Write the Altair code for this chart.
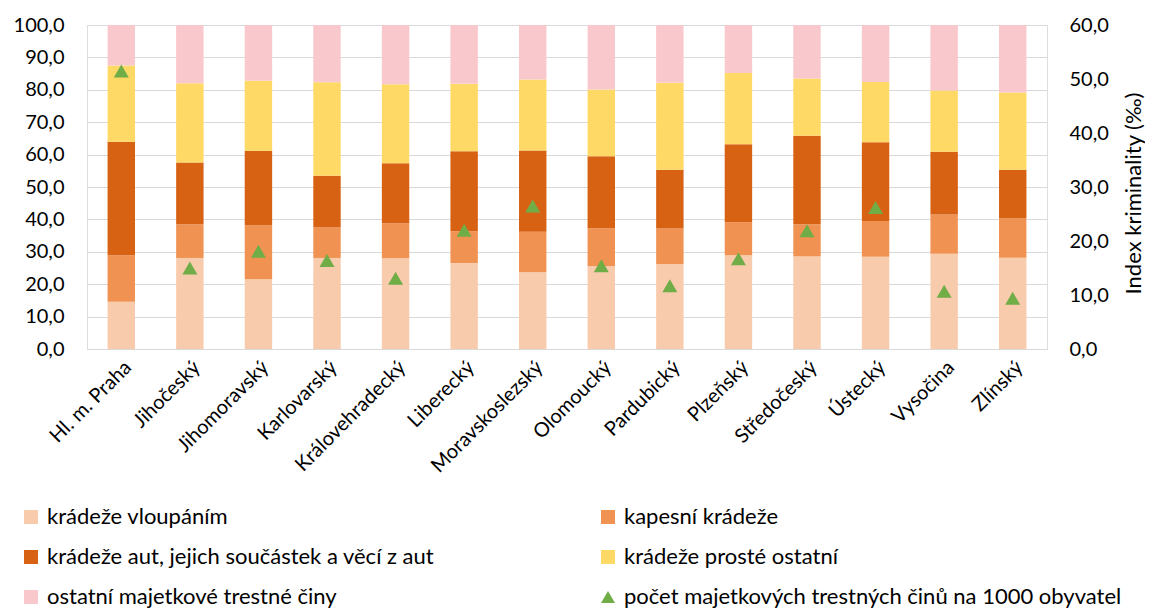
import altair as alt
import pandas as pd

kraje = ["Hl. m. Praha", "Jihočeský", "Jihomoravský", "Karlovarský", "Královehradecký",
         "Liberecký", "Moravskoslezský", "Olomoucký", "Pardubický", "Plzeňský",
         "Středočeský", "Ústecký", "Vysočina", "Zlínský"]

series_names = ["krádeže vloupáním", "kapesní krádeže",
                "krádeže aut, jejich součástek a věcí z aut", "krádeže prosté ostatní",
                "ostatní majetkové trestné činy"]
index_name = "počet majetkových trestných činů na 1000 obyvatel"

vloupani = [14.6, 28.1, 21.5, 28.1, 28.0, 26.5, 23.7, 25.6, 26.2, 28.9, 28.6, 28.5, 29.4, 28.2]
kapesni = [14.3, 10.4, 16.7, 9.4, 10.8, 9.9, 12.5, 11.7, 11.0, 10.2, 9.9, 11.0, 12.1, 12.1]
auta = [35.1, 19.1, 23.0, 16.0, 18.5, 24.6, 25.1, 22.2, 18.1, 24.1, 27.3, 24.3, 19.4, 15.0]
proste = [23.5, 24.4, 21.6, 28.8, 24.4, 20.9, 21.9, 20.6, 26.9, 22.0, 17.7, 18.6, 18.9, 23.9]
ostatni = [12.5, 18.0, 17.2, 17.7, 18.3, 18.1, 16.8, 19.9, 17.8, 14.8, 16.5, 17.6, 20.2, 20.8]
index_krim = [51.5, 15.0, 18.1, 16.4, 13.1, 22.0, 26.5, 15.4, 11.7, 16.7, 21.9, 26.2, 10.7, 9.4]

colors = ["#F8CBAD", "#F09352", "#D86214", "#FFD966", "#F9C8CC", "#70AD47"]

rows = []
for si, (name, vals) in enumerate(zip(series_names, [vloupani, kapesni, auta, proste, ostatni])):
    for k, v in zip(kraje, vals):
        rows.append({"kraj": k, "series": name, "value": v, "order": si})
bars_df = pd.DataFrame(rows)
pts_df = pd.DataFrame({"kraj": kraje, "series": index_name, "index": index_krim})

FONT = "Lato"
comma_fmt = "replace(format(datum.value, '.1f'), '.', ',')"

color_scale = alt.Scale(domain=series_names + [index_name], range=colors)
legend = alt.Legend(
    title=None, orient="none", legendX=-67, legendY=481, columns=2, direction="horizontal",
    columnPadding=162, rowPadding=18, symbolSize=196,
    symbolType=alt.ExprRef(expr=f"datum.value === '{index_name}' ? 'triangle-up' : 'square'"),
    labelFontSize=22, labelFont=FONT, labelColor="#000000", labelOffset=5,
    labelLimit=600, padding=0,
)

x_enc = alt.X("kraj:N", sort=kraje, title=None,
              scale=alt.Scale(paddingInner=0.6, paddingOuter=0.3),
              axis=alt.Axis(labelAngle=-45, labelFontSize=20, labelFont=FONT, labelColor="#000000",
                            ticks=False, domain=True, domainColor="#D9D9D9", labelPadding=8,
                            labelLimit=300))

bars = alt.Chart(bars_df).mark_bar().encode(
    x=x_enc,
    y=alt.Y("value:Q", stack="zero", title=None,
            scale=alt.Scale(domain=[0, 100], nice=False),
            axis=alt.Axis(values=list(range(0, 101, 10)), labelExpr=comma_fmt, grid=True,
                          gridColor="#D9D9D9", domain=False, ticks=False, labelPadding=23,
                          labelFontSize=20, labelFont=FONT, labelColor="#000000")),
    color=alt.Color("series:N", scale=color_scale, legend=legend),
    order=alt.Order("order:Q"),
)

points = alt.Chart(pts_df).mark_point(shape="triangle-up", filled=True, size=225, opacity=1).encode(
    x=alt.X("kraj:N", sort=kraje),
    y=alt.Y("index:Q", title="Index kriminality (‰)",
            scale=alt.Scale(domain=[0, 60], nice=False),
            axis=alt.Axis(orient="right", values=list(range(0, 61, 10)), labelExpr=comma_fmt,
                          grid=False, domain=False, ticks=False, labelPadding=22,
                          labelFontSize=20, labelFont=FONT, labelColor="#000000",
                          titleFontSize=22, titleFont=FONT, titleColor="#000000",
                          titleFontWeight="normal", titleAngle=270, titleX=86, titleY=168,
                          titleAlign="center", titleBaseline="middle")),
    color=alt.Color("series:N", scale=color_scale, legend=legend),
)

chart = alt.layer(bars, points).resolve_scale(y="independent").properties(
    width=960, height=324,
    autosize=alt.AutoSizeParams(type="none"),
    padding={"left": 79, "top": 17, "right": 98, "bottom": 259},
).configure_view(stroke=None).configure(font=FONT)

chart.save("out.html", embed_options={"renderer": "svg", "actions": False})
